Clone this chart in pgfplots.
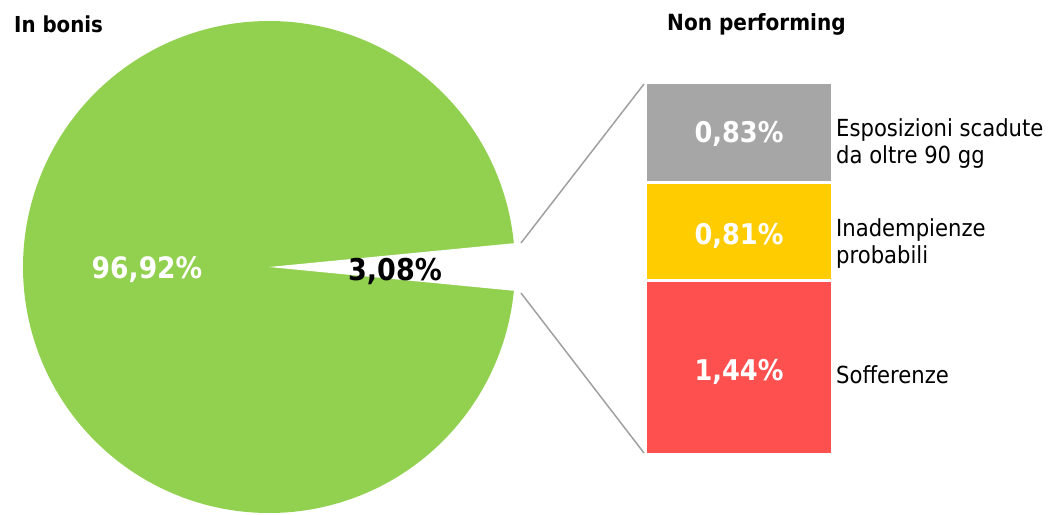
\documentclass[border=0pt]{standalone}
\usepackage{pgfplots}
\pgfplotsset{compat=1.18}
\usepackage{fontspec}
\setmainfont{DejaVu Sans Condensed}
\definecolor{pgreen}{HTML}{92D050}
\definecolor{pgray}{HTML}{A6A6A6}
\definecolor{pyellow}{HTML}{FFCC00}
\definecolor{pred}{HTML}{FF5050}
\definecolor{pline}{HTML}{A0A0A0}
\begin{document}
\begin{tikzpicture}
\begin{axis}[at={(645.5pt,59.5pt)}, anchor=south west, scale only axis,
  width=187pt, height=372pt, xmin=-0.5, xmax=0.5, ymin=0, ymax=3.08,
  enlargelimits=false, hide axis, clip=false,
  ybar stacked, bar width=187pt, bar shift=0pt]
\addplot[fill=pred, draw=white, line width=3pt] coordinates {(0,1.44)};
\addplot[fill=pyellow, draw=white, line width=3pt] coordinates {(0,0.81)};
\addplot[fill=pgray, draw=white, line width=3pt] coordinates {(0,0.83)};
\end{axis}
\begin{axis}[name=main, at={(0pt,0pt)}, anchor=south west, scale only axis,
  width=1048pt, height=514pt, xmin=0, xmax=1048, ymin=0, ymax=514,
  y dir=reverse, hide axis, clip=false]
\path (axis cs:0,0) rectangle (axis cs:1048,514);
% pie (96.92% in bonis, 3.08% non performing cut out)
\addplot[fill=pgreen, draw=none, domain=0:360, samples=361, variable=\t]
  ({269+246*cos(\t)},{267+246*sin(\t)});
\addplot[fill=white, draw=none] coordinates {(269,267) (567.6,238.0) (567.6,296.0)} -- cycle;
% connectors
\addplot[pline, line width=1.5pt] coordinates {(521,243) (644,84)};
\addplot[pline, line width=1.5pt] coordinates {(521,293) (644,453)};
% labels
\node[anchor=west, font=\fontsize{22}{24}\selectfont\bfseries, inner sep=0pt] at (axis cs:14,24) {In bonis};
\node[anchor=west, font=\fontsize{22.3}{24}\selectfont\bfseries, inner sep=0pt] at (axis cs:667,24) {Non performing};
\node[text=white, font=\fontsize{29.5}{32}\selectfont\bfseries, inner sep=0pt] at (axis cs:147,270) {96,92\%};
\node[text=black, font=\fontsize{30}{32}\selectfont\bfseries, inner sep=0pt] at (axis cs:395,271) {3,08\%};
\node[anchor=west, align=left, font=\fontsize{23.5}{27}\selectfont, inner sep=0pt] at (axis cs:836,144) {Esposizioni scadute\\da oltre 90 gg};
\node[anchor=west, align=left, font=\fontsize{23.5}{27}\selectfont, inner sep=0pt] at (axis cs:836,244) {Inadempienze\\probabili};
\node[anchor=west, align=left, font=\fontsize{23.5}{27}\selectfont, inner sep=0pt] at (axis cs:836,375) {Sofferenze};
% bar value labels
\node[text=white, font=\fontsize{28.5}{30}\selectfont\bfseries, inner sep=0pt] at (axis cs:739,134) {0,83\%};
\node[text=white, font=\fontsize{28.5}{30}\selectfont\bfseries, inner sep=0pt] at (axis cs:739,236) {0,81\%};
\node[text=white, font=\fontsize{28.5}{30}\selectfont\bfseries, inner sep=0pt] at (axis cs:739,372) {1,44\%};
\end{axis}
\end{tikzpicture}
\end{document}
